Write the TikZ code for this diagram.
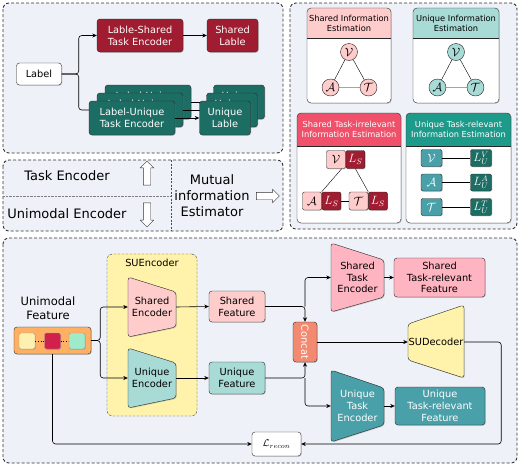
\documentclass[tikz,border=0pt]{standalone}
\usepackage{fontspec}
\setmainfont{DejaVu Sans}
\usepackage{graphicx}
\usetikzlibrary{positioning,shapes.arrows,shadows,arrows.meta}

\definecolor{panelbg}{RGB}{238,241,247}
\definecolor{dred}{RGB}{160,28,48}
\definecolor{dteal}{RGB}{28,110,100}
\definecolor{pinkl}{RGB}{255,204,204}
\definecolor{teall}{RGB}{168,218,214}
\definecolor{hred}{RGB}{240,80,106}
\definecolor{hteal}{RGB}{30,154,138}
\definecolor{mteal}{RGB}{74,160,168}
\definecolor{pinkm}{RGB}{255,180,194}
\definecolor{concat}{RGB}{242,138,114}
\definecolor{yell}{RGB}{255,242,170}
\definecolor{orng}{RGB}{255,176,98}
\definecolor{cream}{RGB}{255,240,176}
\definecolor{crim}{RGB}{210,32,76}
\definecolor{mint}{RGB}{160,234,204}

\tikzset{
  panel/.style={draw=black!80, line width=.9pt, dash pattern=on 3pt off 2pt, rounded corners=6pt, fill=panelbg},
  shad/.style={drop shadow={shadow xshift=.8pt, shadow yshift=-.8pt, opacity=.35}},
  blk/.style={draw=black!85, rounded corners=3pt, align=center, inner sep=1pt, shad, font=\fontsize{9.8}{11.8}\selectfont},
  trap/.style={draw=black!85, rounded corners=3pt, shad},
  traptxt/.style={align=center, inner sep=0pt, font=\fontsize{9.8}{11.8}\selectfont},
  sq/.style={draw=black!85, rounded corners=2pt, minimum width=19pt, minimum height=18pt, inner sep=0pt, shad},
  vtx/.style={circle, draw=black!85, minimum size=17pt, inner sep=0pt},
  hdr/.style={align=center, inner sep=0pt, font=\fontsize{8.3}{10}\selectfont},
  legtxt/.style={align=center, font=\fontsize{13}{16}\selectfont},
  harrow/.style={single arrow, draw=black!80, fill=white, inner sep=3.5pt, single arrow head extend=3pt, minimum height=24pt},
  arr/.style={-{Stealth[length=4.5pt,width=4pt]}, line width=.6pt},
  link/.style={line width=.6pt},
}

% estimation box: name, x1, y1, x2, y2, header bottom, header fill, text options, title
\newcommand{\estbox}[9]{%
  \fill[white, rounded corners=4pt, shad] (#2,#3) rectangle (#4,#5);
  \begin{scope}
    \clip[rounded corners=4pt] (#2,#3) rectangle (#4,#5);
    \fill[#7] (#2,#3) rectangle (#4,#6);
  \end{scope}
  \draw[black!85] (#2,#6) -- (#4,#6);
  \draw[black!85, rounded corners=4pt] (#2,#3) rectangle (#4,#5);
  \node[hdr, #8] (#1) at ({(#2+#4)/2},{(#3+#6)/2}) {#9};
}

\begin{document}
\begin{tikzpicture}[x=1pt,y=-1pt]
\useasboundingbox (0,0) rectangle (523,466);

% label encoders
\path[panel] (3,3) rectangle (283,153);
\node[blk, fill=white, minimum width=45pt, minimum height=22pt] (label) at (39,74) {Label};
\node[blk, fill=dred, text=white, minimum width=86pt, minimum height=33pt] (lstenc) at (140,35.5) {Lable-Shared\\Task Encoder};
\node[blk, fill=dred, text=white, minimum width=51pt, minimum height=33pt] (slab) at (232.5,35.5) {Shared\\Lable};
\draw[arr] (lstenc) -- (slab);

\begin{scope}[every node/.style={blk, fill=dteal, text=white, minimum height=34pt}]
  \node[minimum width=86pt] (lutenc3) at (148,102) {Label-Unique\\Task Encoder};
  \node[minimum width=51pt] (ulab3) at (239,102) {Unique\\Lable};
  \draw[arr] (lutenc3) -- (ulab3);
  \node[minimum width=86pt] (lutenc2) at (140,110) {Label-Unique\\Task Encoder};
  \node[minimum width=51pt] (ulab2) at (232,110) {Unique\\Lable};
  \draw[arr] (lutenc2) -- (ulab2);
  \draw[link, rounded corners=3pt] (label.east) -- ++(17,0) |- (lutenc2.west);
  \draw[arr, rounded corners=3pt] (label.east) -- ++(17,0) |- (lstenc.west);
  \node[minimum width=86pt] (lutenc1) at (132,118) {Label-Unique\\Task Encoder};
  \node[minimum width=51pt] (ulab1) at (225,118) {Unique\\Lable};
  \draw[arr] (lutenc1) -- (ulab1);
\end{scope}

% estimators
\path[panel] (290,3) rectangle (517,229);
\estbox{sie}{307}{8}{391}{103}{38}{pinkl}{}{Shared Information\\Estimation}
\estbox{uie}{413}{8}{499}{103}{38}{teall}{}{Unique Information\\Estimation}
\estbox{stie}{297}{113}{401}{223}{146}{hred}{text=white}{Shared Task-irrelevant\\Information Estimation}
\estbox{utre}{406}{113}{511}{223}{146}{hteal}{text=white}{Unique Task-relevant\\Information Estimation}

\begin{scope}[every node/.style={vtx, fill=pinkl, font=\fontsize{12.5}{14}\selectfont}]
  \node (sv) at (349,52) {$\mathcal{V}$};
  \node (sa) at (330.5,87.5) {$\mathcal{A}$};
  \node (st) at (368.5,87.5) {$\mathcal{T}$};
\end{scope}
\draw (sv) -- (sa) (sv) -- (st) (sa) -- (st);

\begin{scope}[every node/.style={vtx, fill=teall, font=\fontsize{12.5}{14}\selectfont}]
  \node (uv) at (456,52) {$\mathcal{V}$};
  \node (ua) at (437.5,87.5) {$\mathcal{A}$};
  \node (ut) at (475.5,87.5) {$\mathcal{T}$};
\end{scope}
\draw (uv) -- (ua) (uv) -- (ut) (ua) -- (ut);

\begin{scope}[every node/.style={sq, font=\fontsize{12}{14}\selectfont}]
  \node[fill=pinkl] (pv) at (336,159.5) {$\mathcal{V}$};
  \node[fill=dred, text=white, right=0pt of pv] (pvl) {$L_S$};
  \node[fill=pinkl] (pa) at (312,201) {$\mathcal{A}$};
  \node[fill=dred, text=white, right=0pt of pa] (pal) {$L_S$};
  \node[fill=pinkl] (pt) at (358.5,201) {$\mathcal{T}$};
  \node[fill=dred, text=white, right=0pt of pt] (ptl) {$L_S$};
\end{scope}
\draw ([xshift=-4pt]pv.south east) -- (pa.north east);
\draw (pvl.south) -- (pt.north east);
\draw (pal) -- (pt);

\begin{scope}[every node/.style={sq, text=white, minimum width=21pt, minimum height=17pt, font=\fontsize{12}{14}\selectfont}]
  \node[fill=mteal] (rv) at (431.5,158) {$\mathcal{V}$};
  \node[fill=dteal] (lv) at (481,158) {$L_U^V$};
  \node[fill=mteal] (ra) at (431.5,182.5) {$\mathcal{A}$};
  \node[fill=dteal] (la) at (481,182.5) {$L_U^A$};
  \node[fill=mteal] (rt) at (431.5,207) {$\mathcal{T}$};
  \node[fill=dteal] (lt) at (481,207) {$L_U^T$};
\end{scope}
\draw (rv) -- (lv) (ra) -- (la) (rt) -- (lt);

% legend
\path[panel] (3,160) rectangle (283,231);
\draw[black!70, dash pattern=on 2pt off 1.5pt] (171,160) -- (171,231);
\draw[black!50, densely dotted] (3,196) -- (171,196);
\node[legtxt] (legte) at (67,176) {Task Encoder};
\node[legtxt] (legue) at (67,214) {Unimodal Encoder};
\node[harrow, shape border rotate=90] (uparr) at (147,175) {};
\node[harrow, shape border rotate=270] (dnarr) at (147,213) {};
\node[legtxt] (legmie) at (212,196) {Mutual\\information\\Estimator};
\node[harrow, minimum height=23pt] (rtarr) at (266,196) {};

% main model
\path[panel] (3,238) rectangle (517,463);
\node[draw=black!80, dash pattern=on 2.5pt off 1.5pt, rounded corners=5pt, fill=yell, minimum width=90pt, minimum height=162pt] (sue) at (152,335) {};
\node[font=\fontsize{9.8}{11.8}\selectfont] (suelab) at (152,263) {SUEncoder};

\draw[trap, fill=pinkl] (128,277) -- (176,292) -- (176,327) -- (128,337) -- cycle;
\node[traptxt, minimum width=48pt] (senc) at (152,307) {Shared\\Encoder};
\draw[trap, fill=teall] (128,348) -- (176,363) -- (176,398) -- (128,408) -- cycle;
\node[traptxt, minimum width=48pt] (uenc) at (152,378) {Unique\\Encoder};

\node[traptxt, font=\fontsize{11.5}{14}\selectfont] (umfeat) at (48,308) {Unimodal\\Feature};
\node[blk, fill=orng, minimum width=77pt, minimum height=27pt] (bar) at (52.5,340.5) {};
\begin{scope}[every node/.style={draw=black!40, rounded corners=2pt, minimum size=16pt, inner sep=0pt, shad}]
  \node[fill=cream] (m1) at (27,341) {};
  \node[fill=crim] (m2) at (52.5,341) {};
  \node[fill=mint] (m3) at (77,341) {};
\end{scope}
\draw[dotted, line width=.7pt] (m1) -- (m2) (m2) -- (m3);

\node[blk, fill=pinkl, minimum width=56pt, minimum height=31pt] (shfeat) at (237,306.5) {Shared\\Feature};
\node[blk, fill=teall, minimum width=56pt, minimum height=32pt] (unfeat) at (237,378) {Unique\\Feature};
\node[blk, fill=concat, text=white, minimum width=24pt, minimum height=40pt] (concat) at (305,342) {\rotatebox{-90}{Concat}};

\draw[trap, fill=pinkm] (331,243) -- (384,260) -- (384,297) -- (331,312) -- cycle;
\node[traptxt, minimum width=53pt] (stenc) at (357.5,277.5) {Shared\\Task\\Encoder};
\node[blk, fill=pinkm, minimum width=91pt, minimum height=39pt] (strf) at (439.5,277.5) {Shared\\Task-relevant\\Feature};

\draw[trap, fill=mteal] (331,370) -- (384,388) -- (384,425) -- (331,442) -- cycle;
\node[traptxt, text=white, minimum width=53pt] (utenc) at (357.5,406) {Unique\\Task\\Encoder};
\node[blk, fill=mteal, text=white, minimum width=90pt, minimum height=38pt] (utrf) at (440,406) {Unique\\Task-relevant\\Feature};

\draw[trap, fill=yell] (408,324) -- (464,305) -- (464,378) -- (408,360) -- cycle;
\node[traptxt, minimum width=56pt] (sudec) at (436,342) {SUDecoder};

\node[blk, fill=white, minimum width=49pt, minimum height=24pt] (lrec) at (276.5,444) {$\mathcal{L}_{recon}$};

\draw[arr, rounded corners=3pt] (bar.east) -- ++(9,0) |- (senc.west);
\draw[arr, rounded corners=3pt] (bar.east) -- ++(9,0) |- (uenc.west);
\draw[arr] (senc.east) -- (shfeat.west);
\draw[arr] (uenc.east) -- (unfeat.west);
\draw[arr, rounded corners=3pt] (shfeat.east) -| (concat.north);
\draw[arr, rounded corners=3pt] (shfeat.east -| concat.north) |- (stenc.west);
\draw[arr, rounded corners=3pt] (unfeat.east) -| (concat.south);
\draw[arr, rounded corners=3pt] (unfeat.east -| concat.south) |- (utenc.west);
\draw[arr] (stenc.east) -- (strf.west);
\draw[arr] (utenc.east) -- (utrf.west);
\draw[arr] (concat.east) -- (sudec.west);
\draw[arr, rounded corners=3pt] (sudec.east) -- ++(37,0) |- (lrec.east);
\draw[arr, rounded corners=3pt] (m2 |- bar.south) |- (lrec.west);

\end{tikzpicture}
\end{document}
